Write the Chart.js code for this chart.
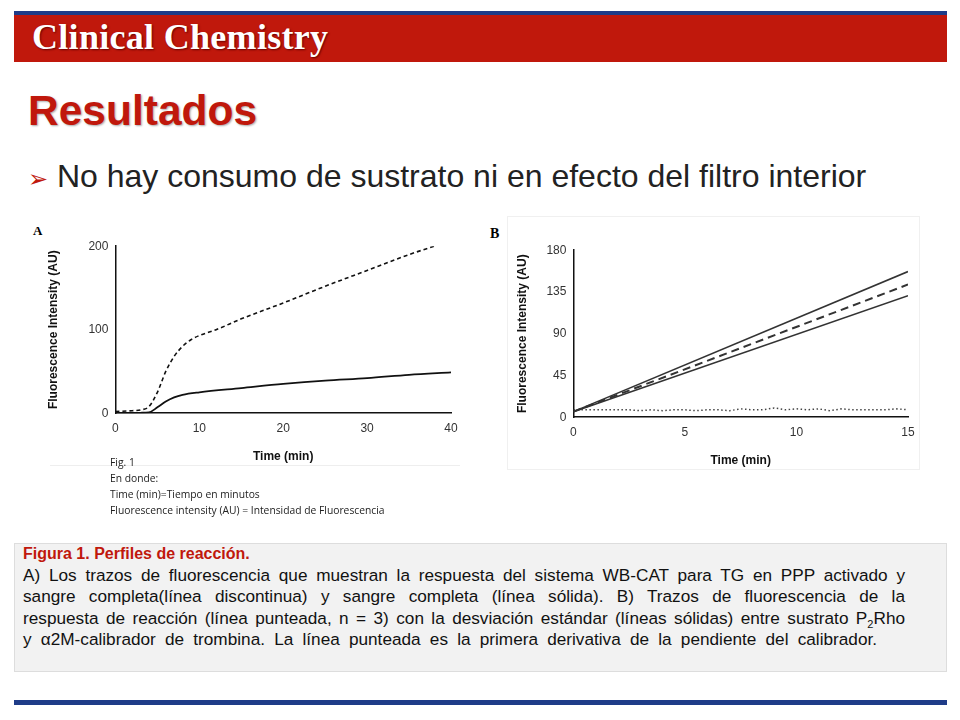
<!DOCTYPE html>
<html><head><meta charset="utf-8">
<script src="https://cdn.jsdelivr.net/npm/chart.js@4"></script>
<style>
body{margin:0;width:960px;height:720px;position:relative;background:#fff;font-family:"Liberation Sans",Arial,sans-serif;overflow:hidden}
.abs{position:absolute}
.cl{text-align:justify;text-align-last:justify;white-space:nowrap}
</style></head><body>
<div class="abs" style="left:14px;top:11px;width:933px;height:4px;background:#1f3c88"></div>
<div class="abs" style="left:14px;top:15px;width:933px;height:47px;background:#c0180c"></div>
<div class="abs" style="left:32px;top:16px;color:#fff;font-family:'Liberation Serif',serif;font-weight:bold;font-size:36px;letter-spacing:0.3px;text-shadow:1px 1px 2px #600">Clinical Chemistry</div>
<div class="abs" style="left:28px;top:87px;color:#c0180c;font-weight:bold;font-size:42.5px;text-shadow:1px 1px 2px #aaa">Resultados</div>
<div class="abs" style="left:28px;top:158px;font-size:32px;color:#222;white-space:nowrap"><span style="color:#c0180c;font-size:24px">&#10146;</span> No hay consumo de sustrato ni en efecto del filtro interior</div>
<div class="abs" style="left:33px;top:223px;font-family:'Liberation Serif',serif;font-weight:bold;font-size:13px">A</div>
<div class="abs" style="left:507px;top:216px;width:411px;height:252px;border:1px solid #f0f0f0"></div>
<div class="abs" style="left:490px;top:226px;font-family:'Liberation Serif',serif;font-weight:bold;font-size:14px">B</div>
<div class="abs" style="left:40px;top:236px;width:425px;height:232px"><canvas id="a"></canvas></div>
<div class="abs" style="left:500px;top:240px;width:420px;height:232px"><canvas id="b"></canvas></div>
<div class="abs" style="left:50px;top:465px;width:410px;height:1px;background:#eee"></div>
<div class="abs" style="left:110px;top:454px;font-family:'Open Sans',sans-serif;font-size:10.3px;line-height:16px;color:#222">Fig. 1<br>En donde:<br>Time (min)=Tiempo en minutos<br>Fluorescence intensity (AU) = Intensidad de Fluorescencia</div>
<div class="abs" style="left:14px;top:543px;width:931px;height:127px;background:#f2f2f2;border:1px solid #ddd"></div>
<div class="abs" style="left:23px;top:543px;font-size:17.2px;line-height:21.5px;color:#111">
<b style="color:#c0180c;font-size:16px">Figura 1. Perfiles de reacción.</b>
<div class="cl" style="width:882px">A) Los trazos de fluorescencia que muestran la respuesta del sistema WB-CAT para TG en PPP activado y</div>
<div class="cl" style="width:882px">sangre completa(línea discontinua) y sangre completa (línea sólida). B) Trazos de fluorescencia de la</div>
<div class="cl" style="width:882px">respuesta de reacción (línea punteada, n = 3) con la desviación estándar (líneas sólidas) entre sustrato P<sub style="font-size:11px;line-height:0">2</sub>Rho</div>
<div class="cl" style="width:854px">y α2M-calibrador de trombina. La línea punteada es la primera derivativa de la pendiente del calibrador.</div>
</div>
<div class="abs" style="left:14px;top:700px;width:933px;height:5px;background:#1f3c88"></div>
<script>
const aDashX=[0,2,3,4,5,6,7,8,9,10,12,15,20,25,30,35,38];
const aDashY=[2,3,4,8,25,50,68,80,88,93,100,113,132,152,171,190,200];
const aSolidX=[0,3,4,5,6,7,8,10,15,20,25,30,35,40];
const aSolidY=[0,0.5,1,7,14,19,22,25,30,35,39,42,46,49];
const bX=[0,15];
const bUpper=[6,157];
const bMean=[6,143];
const bLower=[6,131];
const bDotX=[0,0.5,1,1.5,2,2.5,3,3.5,4,4.5,5,5.5,6,6.5,7,7.5,8,8.5,9,9.5,10,10.5,11,11.5,12,12.5,13,13.5,14,14.5,15];
const bDotY=[8,8,8,8,8,8,7,8,7,8,8,7,8,8,7,9,8,8,10,8,9,8,9,7,9,8,8,8,8,9,8];
const pts=(xs,ys)=>xs.map((x,i)=>({x,y:ys[i]}));
function axes(xmax,xstep,ymax,ystep,tp){
 const tk={color:'#333',font:{family:'Liberation Sans',size:12}};
 const tt=t=>({display:true,text:t,color:'#111',font:{family:'Liberation Sans',size:12,weight:'bold'}});
 return {x:{type:'linear',min:0,max:xmax,ticks:{...tk,stepSize:xstep,padding:4},grid:{display:false,drawTicks:true,tickLength:4,color:'#000'},border:{color:'#111',width:1.5},title:{...tt('Time (min)'),padding:{top:10}}},
  y:{min:0,max:ymax,ticks:{...tk,stepSize:ystep},grid:{display:false,tickLength:4},border:{color:'#111',width:1.5},title:{...tt('Fluorescence Intensity (AU)'),padding:{bottom:tp}}}};
}
const common={responsive:true,maintainAspectRatio:false,animation:false,plugins:{legend:{display:false},tooltip:{enabled:false}},elements:{point:{radius:0}}};
new Chart(document.getElementById('a'),{type:'line',data:{datasets:[
 {data:pts(aDashX,aDashY),borderColor:'#111',borderWidth:1.6,borderDash:[4,3],cubicInterpolationMode:'monotone'},
 {data:pts(aSolidX,aSolidY),borderColor:'#111',borderWidth:1.8,cubicInterpolationMode:'monotone'}]},
 options:{...common,layout:{padding:{top:6,right:14,left:2}},scales:axes(40,10,200,100,25)}});
new Chart(document.getElementById('b'),{type:'line',data:{datasets:[
 {data:pts(bX,bUpper),borderColor:'#333',borderWidth:1.6},
 {data:pts(bX,bMean),borderColor:'#333',borderWidth:2,borderDash:[8,5]},
 {data:pts(bX,bLower),borderColor:'#333',borderWidth:1.6},
 {data:pts(bDotX,bDotY),borderColor:'#444',borderWidth:1.5,borderDash:[1.5,2.5]}]},
 options:{...common,layout:{padding:{top:6,right:12,left:11}},scales:axes(15,5,180,45,14)}});
</script>
</body></html>
